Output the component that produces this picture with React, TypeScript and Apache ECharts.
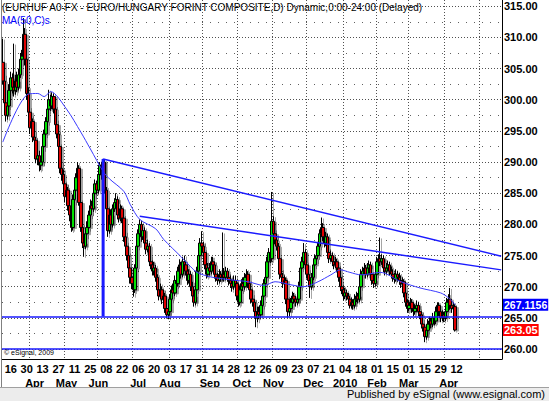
import React, { useEffect, useRef } from "react";
import * as echarts from "echarts";

// ---------- data ----------
const START_UTC = Date.UTC(2009, 2, 9); // first bar: Mon 9 Mar 2009
const CATEGORY_COUNT = 314; // weekdays shown on the axis (data + empty space on the right)
const LAST_LABEL_INDEX = 285; // last labelled date: Mon 12 Apr 2010

const opens = [
  306.0, 303.0, 299.5, 297.5, 299.0, 301.5, 303.5, 302.0, 301.5, 303.0,
  302.0, 304.0, 306.5, 307.0, 310.5, 306.5, 301.0, 298.0, 295.5, 296.5,
  294.0, 293.5, 290.5, 291.0, 289.5, 290.0, 292.5, 294.5, 296.5, 298.5,
  300.0, 299.0, 300.5, 298.5, 296.0, 294.5, 292.5, 289.0, 288.0, 286.5,
  284.5, 285.5, 283.0, 281.5, 279.5, 284.0, 285.5, 287.5, 289.0, 283.5,
  279.5, 277.0, 276.5, 278.5, 279.5, 281.5, 283.0, 282.5, 285.0, 286.5,
  285.5, 288.0, 289.5, 288.0, 290.0, 285.5, 282.5, 279.0, 281.5, 280.0,
  282.5, 283.5, 284.0, 281.5, 281.0, 282.5, 281.0, 278.0, 276.5, 275.0,
  273.0, 271.5, 270.5, 269.5, 273.0, 276.5, 278.5, 280.0, 278.0, 279.0,
  277.0, 276.0, 276.5, 274.0, 273.5, 272.5, 273.0, 271.5, 269.5, 268.5,
  269.5, 268.0, 268.5, 266.5, 265.5, 266.0, 268.0, 269.5, 269.0, 271.0,
  270.5, 272.5, 273.5, 272.0, 274.0, 273.5, 272.5, 271.0, 272.0, 270.0,
  268.5, 267.5, 269.5, 272.5, 275.0, 277.0, 276.5, 275.5, 273.5, 272.0,
  273.0, 272.5, 274.0, 273.5, 272.0, 271.5, 271.0, 272.0, 271.5, 272.0,
  271.5, 272.5, 271.5, 271.0, 270.5, 270.0, 271.0, 270.5, 268.5, 267.5,
  269.5, 270.5, 270.0, 271.5, 272.0, 270.5, 269.5, 268.0, 267.5, 266.0,
  265.0, 266.0, 265.5, 267.0, 268.5, 270.5, 271.5, 274.0, 275.5, 274.5,
  280.5, 278.5, 277.5, 276.5, 274.5, 272.0, 271.5, 270.5, 271.0, 268.0,
  266.0, 266.5, 267.5, 268.5, 268.0, 267.5, 268.0, 270.0, 273.0, 274.0,
  275.5, 273.5, 272.0, 271.0, 270.0, 271.5, 273.5, 274.5, 275.0, 276.5,
  278.5, 279.5, 278.0, 277.0, 278.0, 275.5, 274.5, 275.0, 274.0, 273.5,
  274.0, 273.0, 271.5, 270.0, 269.5, 268.5, 269.0, 268.5, 268.0, 267.0,
  267.5, 267.0, 268.0, 268.5, 268.0, 270.0, 272.0, 272.5, 273.0, 272.0,
  273.0, 273.5, 272.0, 271.0, 270.5, 272.0, 274.0, 274.5, 274.0, 274.5,
  273.0, 272.5, 273.0, 273.5, 272.5, 272.0, 271.5, 271.2, 272.0, 271.5,
  271.0, 270.5, 270.8, 269.0, 267.5, 266.5, 267.0, 267.5, 266.5, 266.0,
  266.5, 267.0, 266.0, 265.5, 264.0, 263.5, 262.0, 263.0, 264.0, 264.5,
  264.0, 265.0, 264.5, 266.0, 267.0, 266.0, 265.0, 265.5, 265.0, 266.0,
  267.5, 268.0, 267.0, 266.5, 266.8,
];

const highs = [
  309.8, 304.0, 300.5, 300.0, 302.5, 304.5, 304.2, 309.0, 304.0, 304.5,
  305.0, 307.5, 308.0, 313.1, 311.5, 307.0, 302.0, 298.8, 297.5, 297.0,
  295.0, 294.0, 292.0, 291.8, 291.0, 293.0, 295.2, 297.2, 299.2, 301.6,
  300.8, 301.2, 301.0, 299.0, 296.8, 295.0, 293.0, 290.0, 288.8, 287.0,
  286.5, 286.0, 283.8, 282.0, 284.8, 286.2, 288.2, 290.0, 289.5, 284.0,
  280.0, 278.0, 279.2, 280.5, 282.2, 284.0, 283.8, 285.8, 287.2, 287.0,
  288.8, 290.0, 290.0, 290.5, 290.3, 286.0, 283.0, 282.0, 282.4, 283.2,
  284.2, 285.0, 284.5, 282.5, 283.2, 283.0, 281.5, 278.8, 277.2, 275.5,
  273.8, 272.2, 271.0, 273.6, 277.2, 279.2, 280.8, 280.5, 279.8, 279.5,
  277.8, 277.5, 277.0, 275.0, 274.2, 274.0, 273.5, 272.0, 270.2, 270.5,
  270.0, 269.5, 269.0, 267.2, 266.8, 268.8, 270.2, 270.5, 271.8, 272.0,
  273.2, 274.4, 274.0, 274.8, 275.0, 274.2, 273.0, 272.8, 272.5, 270.8,
  269.2, 270.0, 273.2, 275.8, 277.8, 278.9, 277.2, 276.0, 274.0, 273.8,
  273.8, 274.8, 274.8, 274.0, 272.8, 272.2, 272.8, 272.5, 278.7, 273.0,
  273.2, 273.0, 272.2, 271.8, 271.2, 271.8, 271.8, 271.0, 269.0, 270.2,
  271.2, 271.5, 272.2, 272.8, 272.5, 271.0, 270.0, 268.8, 268.0, 266.5,
  266.8, 266.8, 267.8, 269.2, 271.2, 272.2, 274.8, 276.2, 276.5, 285.2,
  281.3, 279.2, 278.2, 277.0, 275.0, 272.8, 272.2, 271.8, 271.5, 268.5,
  267.2, 268.2, 269.2, 269.0, 268.5, 268.8, 270.8, 273.8, 274.8, 277.0,
  276.0, 274.0, 272.8, 271.5, 272.2, 274.2, 275.2, 275.8, 277.2, 279.2,
  281.1, 280.2, 278.8, 278.8, 278.5, 276.2, 275.8, 275.5, 274.8, 274.8,
  274.5, 273.5, 272.0, 270.8, 270.0, 269.8, 269.5, 269.0, 268.5, 268.2,
  268.0, 268.8, 269.2, 269.0, 270.8, 272.8, 273.2, 273.8, 273.5, 273.8,
  274.2, 274.0, 272.5, 271.5, 272.8, 274.8, 275.2, 277.9, 275.2, 275.0,
  273.8, 273.8, 274.2, 274.0, 273.2, 272.8, 272.2, 272.8, 272.5, 272.2,
  271.8, 271.5, 271.2, 269.5, 268.0, 267.8, 268.2, 268.0, 267.0, 267.2,
  267.8, 267.5, 266.5, 266.0, 264.8, 264.0, 263.8, 264.8, 265.2, 265.0,
  265.8, 265.5, 266.8, 267.5, 267.5, 266.5, 266.2, 266.0, 266.8, 268.2,
  268.8, 269.8, 267.5, 267.5, 267.2,
];

const lows = [
  302.5, 298.5, 296.5, 296.8, 298.5, 300.8, 301.0, 300.5, 300.8, 301.2,
  301.5, 303.5, 305.5, 306.5, 305.5, 300.0, 297.0, 294.5, 294.8, 293.2,
  292.5, 289.8, 289.5, 288.5, 288.7, 289.5, 291.8, 294.0, 296.0, 297.8,
  298.2, 298.5, 297.8, 295.2, 293.8, 291.5, 288.2, 287.0, 285.8, 283.5,
  283.8, 282.2, 280.5, 278.8, 279.0, 283.2, 285.0, 286.8, 283.0, 278.8,
  276.2, 274.8, 276.0, 277.8, 279.0, 281.0, 281.5, 282.0, 284.2, 284.8,
  285.0, 287.3, 287.2, 287.5, 285.0, 281.8, 278.0, 278.5, 279.2, 279.5,
  282.0, 283.0, 280.8, 280.3, 280.5, 280.2, 277.2, 275.8, 274.2, 272.2,
  270.5, 269.6, 268.4, 269.0, 272.5, 276.0, 278.0, 277.2, 277.5, 276.3,
  275.2, 275.5, 273.3, 272.8, 271.8, 271.8, 270.8, 268.8, 267.8, 268.0,
  267.2, 267.5, 265.8, 264.9, 264.8, 265.5, 267.5, 268.2, 268.5, 269.8,
  270.0, 272.0, 271.3, 271.5, 272.8, 271.8, 270.3, 270.5, 269.3, 267.8,
  266.8, 267.0, 269.0, 272.0, 274.5, 275.8, 274.8, 272.8, 271.3, 271.5,
  271.8, 272.0, 272.8, 271.3, 270.8, 270.3, 270.5, 270.8, 271.0, 270.8,
  271.0, 270.8, 270.2, 269.8, 269.2, 269.5, 269.8, 267.8, 266.8, 267.0,
  269.0, 269.3, 269.5, 271.0, 269.8, 268.8, 267.3, 266.8, 265.2, 263.5,
  264.3, 264.8, 265.0, 266.5, 268.0, 270.0, 271.0, 273.5, 273.8, 274.0,
  277.8, 276.8, 275.8, 273.8, 271.2, 270.8, 269.8, 269.8, 267.2, 265.0,
  265.3, 266.0, 267.0, 267.3, 266.8, 267.0, 267.5, 269.5, 272.5, 273.5,
  272.8, 271.3, 270.2, 268.2, 269.5, 271.0, 273.0, 273.8, 274.5, 276.0,
  278.0, 277.3, 276.3, 276.5, 274.8, 273.8, 274.0, 273.3, 272.8, 273.0,
  272.3, 270.8, 269.3, 268.8, 267.8, 268.0, 267.8, 267.3, 266.5, 266.5,
  266.3, 266.5, 267.5, 267.3, 267.5, 269.5, 271.5, 272.0, 271.3, 271.5,
  272.5, 271.3, 270.3, 269.8, 270.0, 271.5, 273.5, 273.3, 273.5, 272.3,
  271.8, 272.0, 272.5, 271.8, 271.3, 270.8, 270.5, 270.8, 270.8, 270.3,
  269.8, 269.8, 268.3, 266.8, 265.8, 266.0, 266.5, 265.8, 265.3, 265.5,
  266.0, 265.3, 264.8, 263.3, 262.8, 261.1, 261.5, 262.5, 263.5, 263.3,
  263.5, 263.8, 264.0, 265.5, 265.3, 264.3, 264.5, 264.3, 264.5, 265.5,
  267.0, 266.3, 265.8, 265.5, 262.8,
];

const closes = [
  303.0, 299.5, 297.5, 299.0, 301.5, 303.5, 302.0, 301.5, 303.0, 302.0,
  304.0, 306.5, 307.0, 310.5, 306.5, 301.0, 298.0, 295.5, 296.5, 294.0,
  293.5, 290.5, 291.0, 289.5, 290.0, 292.5, 294.5, 296.5, 298.5, 300.0,
  299.0, 300.5, 298.5, 296.0, 294.5, 292.5, 289.0, 288.0, 286.5, 284.5,
  285.5, 283.0, 281.5, 279.5, 284.0, 285.5, 287.5, 289.0, 283.5, 279.5,
  277.0, 276.5, 278.5, 279.5, 281.5, 283.0, 282.5, 285.0, 286.5, 285.5,
  288.0, 289.5, 288.0, 290.0, 285.5, 282.5, 279.0, 281.5, 280.0, 282.5,
  283.5, 284.0, 281.5, 281.0, 282.5, 281.0, 278.0, 276.5, 275.0, 273.0,
  271.5, 270.5, 269.5, 273.0, 276.5, 278.5, 280.0, 278.0, 279.0, 277.0,
  276.0, 276.5, 274.0, 273.5, 272.5, 273.0, 271.5, 269.5, 268.5, 269.5,
  268.0, 268.5, 266.5, 265.5, 266.0, 268.0, 269.5, 269.0, 271.0, 270.5,
  272.5, 273.5, 272.0, 274.0, 273.5, 272.5, 271.0, 272.0, 270.0, 268.5,
  267.5, 269.5, 272.5, 275.0, 277.0, 276.5, 275.5, 273.5, 272.0, 273.0,
  272.5, 274.0, 273.5, 272.0, 271.5, 271.0, 272.0, 271.5, 272.0, 271.5,
  272.5, 271.5, 271.0, 270.5, 270.0, 271.0, 270.5, 268.5, 267.5, 269.5,
  270.5, 270.0, 271.5, 272.0, 270.5, 269.5, 268.0, 267.5, 266.0, 265.0,
  266.0, 265.5, 267.0, 268.5, 270.5, 271.5, 274.0, 275.5, 274.5, 280.5,
  278.5, 277.5, 276.5, 274.5, 272.0, 271.5, 270.5, 271.0, 268.0, 266.0,
  266.5, 267.5, 268.5, 268.0, 267.5, 268.0, 270.0, 273.0, 274.0, 275.5,
  273.5, 272.0, 271.0, 270.0, 271.5, 273.5, 274.5, 275.0, 276.5, 278.5,
  279.5, 278.0, 277.0, 278.0, 275.5, 274.5, 275.0, 274.0, 273.5, 274.0,
  273.0, 271.5, 270.0, 269.5, 268.5, 269.0, 268.5, 268.0, 267.0, 267.5,
  267.0, 268.0, 268.5, 268.0, 270.0, 272.0, 272.5, 273.0, 272.0, 273.0,
  273.5, 272.0, 271.0, 270.5, 272.0, 274.0, 274.5, 274.0, 274.5, 273.0,
  272.5, 273.0, 273.5, 272.5, 272.0, 271.5, 271.2, 272.0, 271.5, 271.0,
  270.5, 270.8, 269.0, 267.5, 266.5, 267.0, 267.5, 266.5, 266.0, 266.5,
  267.0, 266.0, 265.5, 264.0, 263.5, 262.0, 263.0, 264.0, 264.5, 264.0,
  265.0, 264.5, 266.0, 267.0, 266.0, 265.0, 265.5, 265.0, 266.0, 267.5,
  268.0, 267.0, 266.5, 266.8, 263.05,
];

// 50-day moving average at these bar indices
const maPoints: [number, number][] = [
  [0, 293.2], [16, 300.9], [22, 301.0], [26, 300.5], [30, 301.3], [40, 298.5],
  [49, 294.8], [55, 292.1], [63, 288.5], [67, 287.3], [76, 285.3], [80, 283.2],
  [86, 280.8], [96, 279.3], [101, 277.6], [112, 274.8], [118, 273.2], [122, 272.3],
  [130, 271.6], [143, 271.1], [154, 270.8], [164, 270.2], [171, 270.8], [181, 270.3],
  [189, 270.0], [198, 270.8], [206, 271.9], [212, 272.7], [218, 272.3], [225, 271.9],
  [237, 272.3], [250, 270.8], [262, 269.8], [275, 269.0], [280, 268.2], [284, 267.1156],
];

const priceTicks = [260, 265, 270, 275, 280, 285, 290, 295, 300, 305, 310, 315];
const minorTicks = [262.5, 267.5, 272.5, 277.5, 282.5, 287.5, 292.5, 297.5, 302.5, 307.5, 312.5];

// drawn trend lines: [bar index, price]
const upperTrend: [number, number][] = [[63, 290.5], [313, 274.9]];
const lowerTrend: [number, number][] = [[86, 281.3], [313, 272.7]];
const flagPole: [number, number][] = [[63, 265.2], [63, 290.5]];
const supportLevels = [265.2, 260];

const lastClose = 263.05;
const lastMA = 267.1156;

const monthNames = ["Jan", "Feb", "Mar", "Apr", "May", "Jun", "Jul", "Aug", "Sep", "Oct", "Nov", "Dec"];
const TITLE = "(EURHUF A0-FX - EURO/HUNGARY FORINT COMPOSITE,D) Dynamic,0:00-24:00 (Delayed)";
const FONT = '"Liberation Sans", Arial, sans-serif';

function buildCategories(): string[] {
  const out: string[] = [];
  let t = START_UTC;
  while (out.length < CATEGORY_COUNT) {
    const d = new Date(t);
    const wd = d.getUTCDay();
    if (wd !== 0 && wd !== 6) out.push(d.toISOString().slice(0, 10));
    t += 86400000;
  }
  return out;
}

export default function App() {
  const ref = useRef<HTMLDivElement>(null);

  useEffect(() => {
    document.body.style.margin = "0";
    if (!ref.current) return;
    const chart = echarts.init(ref.current, undefined, { renderer: "svg" });

    const cats = buildCategories();
    const candleData = closes.map((c, i) => [opens[i], c, lows[i], highs[i]]);
    const maData: (number | null)[] = closes.map(() => null);
    maPoints.forEach(([i, v]) => (maData[i] = v));

    const isMonthStart = (i: number) => i > 0 && cats[i].slice(5, 7) !== cats[i - 1].slice(5, 7);
    const isFirstMonday = (i: number) =>
      i <= LAST_LABEL_INDEX && i % 5 === 0 && Number(cats[i].slice(8, 10)) <= 7;

    const option: any = {
      animation: false,
      backgroundColor: "#ffffff",
      grid: { left: 2, right: 47, top: 0, bottom: 42, containLabel: false },
      xAxis: [
        {
          type: "category",
          data: cats,
          boundaryGap: true,
          axisLine: { show: true, lineStyle: { color: "#000", width: 1 } },
          axisTick: { show: false },
          axisLabel: {
            interval: (i: number) => i >= 5 && i <= LAST_LABEL_INDEX && (i - 5) % 10 === 0,
            formatter: (v: string) => v.slice(8, 10),
            color: "#000",
            fontFamily: FONT,
            fontWeight: "bold",
            fontSize: 11,
            margin: 4,
          },
          splitLine: {
            show: true,
            interval: (i: number) => isMonthStart(i),
            lineStyle: { color: "#505050", type: [1, 2], width: 1 },
          },
        },
        {
          type: "category",
          data: cats,
          position: "bottom",
          offset: 14,
          boundaryGap: true,
          axisLine: { show: false },
          axisTick: { show: false },
          axisLabel: {
            interval: (i: number) => isFirstMonday(i),
            formatter: (v: string) => {
              const m = Number(v.slice(5, 7));
              return m === 1 ? v.slice(0, 4) : monthNames[m - 1];
            },
            color: "#000",
            fontFamily: FONT,
            fontWeight: "bold",
            fontSize: 11,
            margin: 4,
          },
          splitLine: { show: false },
        },
      ],
      yAxis: {
        type: "value",
        position: "right",
        min: 258.4,
        max: 316.0,
        scale: true,
        axisLine: { show: true, lineStyle: { color: "#000", width: 1 } },
        axisTick: { show: false },
        splitLine: { show: false },
        axisLabel: {
          customValues: priceTicks,
          formatter: (v: number) => v.toFixed(2),
          color: "#000",
          fontFamily: FONT,
          fontWeight: "bold",
          fontSize: 11,
          margin: 2,
        },
      },
      series: [
        {
          name: "grid",
          type: "line",
          data: closes.map(() => null),
          silent: true,
          z: 1,
          markLine: {
            silent: true,
            symbol: "none",
            z: 1,
            label: { show: false },
            data: [
              ...priceTicks.map((v) => ({ yAxis: v, lineStyle: { color: "#505050", type: [1, 2], width: 1 } })),
              ...minorTicks.map((v) => ({ yAxis: v, lineStyle: { color: "#606060", type: [1, 7], width: 1 } })),
            ],
          },
        },
        {
          name: "price",
          type: "candlestick",
          data: candleData,
          barWidth: 3,
          z: 3,
          itemStyle: {
            color: "#00e000",
            color0: "#e00000",
            borderColor: "#000",
            borderColor0: "#000",
            borderWidth: 1,
            shadowColor: "rgba(0,0,0,0.35)",
            shadowBlur: 1,
            shadowOffsetX: 2,
            shadowOffsetY: 1,
          },
          markLine: {
            silent: true,
            symbol: "none",
            z: 10,
            data: [{ yAxis: lastClose }],
            lineStyle: { color: "transparent", width: 0 },
            label: {
              show: true,
              position: "end",
              distance: 1,
              formatter: lastClose.toFixed(2),
              color: "#fff",
              backgroundColor: "#ff0000",
              fontFamily: FONT,
              fontWeight: "bold",
              fontSize: 11,
              padding: [1, 1, 0, 1],
            },
          },
        },
        {
          name: "MA",
          type: "line",
          data: maData,
          connectNulls: true,
          smooth: 0.3,
          symbol: "none",
          z: 4,
          lineStyle: { color: "#3a3aff", width: 1 },
          markLine: {
            silent: true,
            symbol: "none",
            z: 10,
            data: [{ yAxis: lastMA }],
            lineStyle: { color: "transparent", width: 0 },
            label: {
              show: true,
              position: "end",
              distance: 1,
              formatter: String(lastMA),
              color: "#fff",
              backgroundColor: "#0000ff",
              fontFamily: FONT,
              fontWeight: "bold",
              fontSize: 10.5,
              padding: [1, 1, 0, 1],
            },
          },
        },
        {
          name: "levels",
          type: "line",
          data: closes.map(() => null),
          z: 5,
          markLine: {
            silent: true,
            symbol: "none",
            z: 5,
            label: { show: false },
            lineStyle: { color: "#1a1aff", type: "solid", width: 1.5 },
            data: supportLevels.map((v) => ({ yAxis: v })),
          },
        },
        {
          name: "upper",
          type: "line",
          data: upperTrend,
          symbol: "none",
          z: 5,
          lineStyle: { color: "#1a1aff", width: 1.5 },
        },
        {
          name: "lower",
          type: "line",
          data: lowerTrend,
          symbol: "none",
          z: 5,
          lineStyle: { color: "#1a1aff", width: 1.5 },
        },
        {
          name: "pole",
          type: "line",
          data: flagPole,
          symbol: "none",
          z: 5,
          lineStyle: { color: "#1a1aff", width: 3 },
        },
      ],
      graphic: [
        {
          type: "text",
          left: 2,
          top: 2,
          z: 20,
          style: { text: TITLE, fill: "#000", fontFamily: FONT, fontSize: 10 },
        },
        {
          type: "text",
          left: 2,
          top: 15,
          z: 20,
          style: { text: "MA(50,C)s", fill: "#0000ff", fontFamily: FONT, fontSize: 10 },
        },
        {
          type: "text",
          left: 4,
          top: 349,
          z: 20,
          style: { text: "\u00a9 eSignal, 2009", fill: "#000", fontFamily: FONT, fontSize: 7 },
        },
        {
          type: "line",
          z: 20,
          shape: { x1: 1.5, y1: 0, x2: 1.5, y2: 387 },
          style: { stroke: "#808080", lineWidth: 1 },
        },
        {
          type: "rect",
          z: 20,
          shape: { x: 0, y: 387, width: 549, height: 14 },
          style: { fill: "#ececec" },
        },
        {
          type: "line",
          z: 21,
          shape: { x1: 0, y1: 387.5, x2: 549, y2: 387.5 },
          style: { stroke: "#a0a0a0", lineWidth: 1 },
        },
        {
          type: "text",
          right: 4,
          top: 388,
          z: 21,
          style: { text: "Published by eSignal (www.esignal.com)", fill: "#000", fontFamily: FONT, fontSize: 11 },
        },
      ],
    };

    chart.setOption(option);
    return () => chart.dispose();
  }, []);

  return <div ref={ref} style={{ width: 549, height: 401 }} />;
}
